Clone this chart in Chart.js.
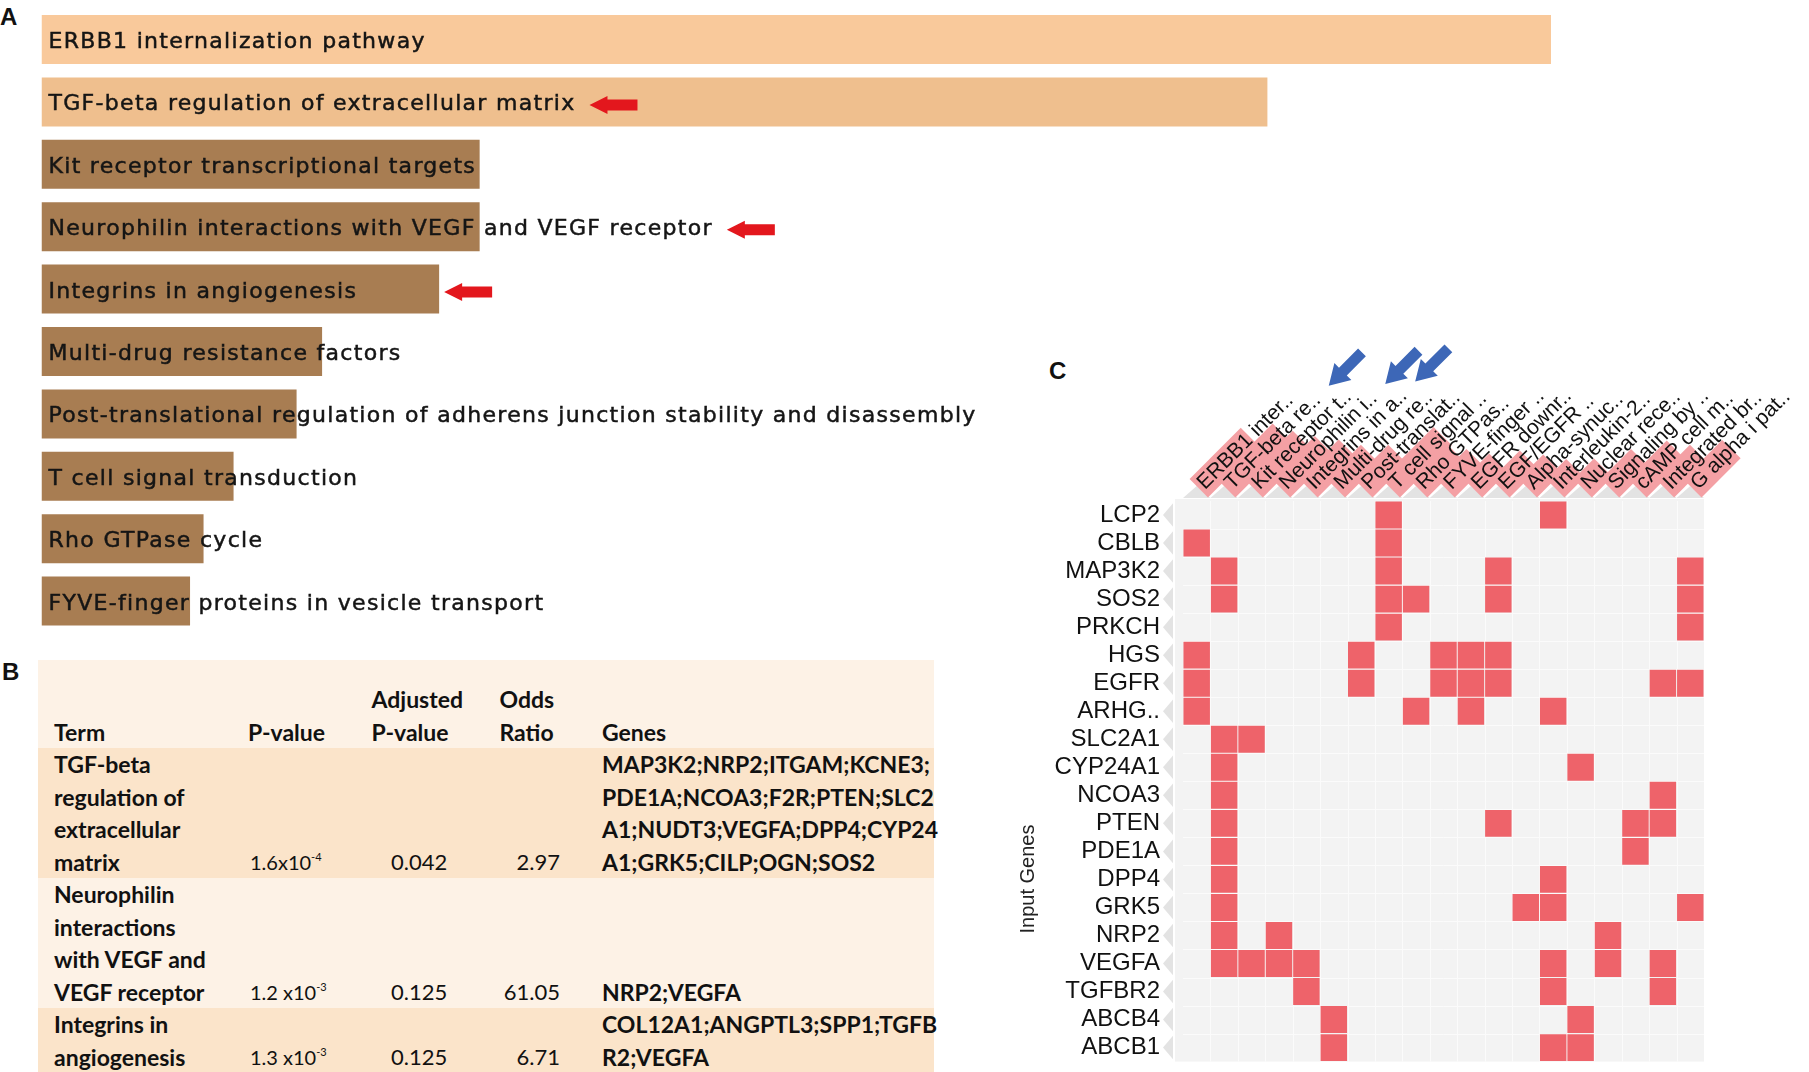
<!DOCTYPE html>
<html lang="en">
<head>
<meta charset="UTF-8">
<title>Enrichment figure</title>
<script src="https://cdn.jsdelivr.net/npm/chart.js"></script>
<style>
  body { margin: 0; width: 1809px; height: 1072px; overflow: hidden; background: #fff; position: relative; }
  .panel { position: absolute; font: bold 24px "Liberation Sans", Arial, sans-serif; line-height: 24px; color: #111; }
  #barsA { position: absolute; left: 0; top: 0; }
  #heatC { position: absolute; left: 1000px; top: 280px; }
  #tableB { position: absolute; left: 38px; top: 660px; width: 896px; border-collapse: collapse; table-layout: fixed;
            font: bold 23px Lato, sans-serif; color: #111; }
  #tableB td { padding: 0; vertical-align: bottom; line-height: 32.5px; white-space: pre-line; }
  #tableB td.num { font-weight: normal; font-size: 22px; }
  #tableB td.pv { font-size: 20px; }
  #tableB sup { font-size: 11px; vertical-align: 9px; line-height: 0; }
</style>
</head>
<body>
<div class="panel" style="left:0; top:5px;">A</div>
<div class="panel" style="left:2px; top:660px;">B</div>
<div class="panel" style="left:1049px; top:359px;">C</div>

<canvas id="barsA" width="1560" height="640"></canvas>
<table id="tableB"></table>
<canvas id="heatC" width="809" height="819"></canvas>

<script>
// ---- panel A: enriched terms ----
const terms = [
  'ERBB1 internalization pathway',
  'TGF-beta regulation of extracellular matrix',
  'Kit receptor transcriptional targets',
  'Neurophilin interactions with VEGF and VEGF receptor',
  'Integrins in angiogenesis',
  'Multi-drug resistance factors',
  'Post-translational regulation of adherens junction stability and disassembly',
  'T cell signal transduction',
  'Rho GTPase cycle',
  'FYVE-finger proteins in vesicle transport'
];
const scores = [100.6, 81.7, 29.2, 29.2, 26.5, 18.7, 17.0, 12.8, 10.8, 9.9];
const barColors = ['#f9c99b', '#efbf8e', '#a87d52', '#a87d52', '#a87d52', '#a87d52', '#a87d52', '#a87d52', '#a87d52', '#a87d52'];
const flagged = [false, true, false, true, true, false, false, false, false, false];

// ---- panel B: table ----
const tableHead = ['Term', 'P-value', 'Adjusted\nP-value', 'Odds\nRatio', 'Genes'];
const tableTerms = ['TGF-beta\nregulation of\nextracellular\nmatrix', 'Neurophilin\ninteractions\nwith VEGF and\nVEGF receptor', 'Integrins in\nangiogenesis'];
const pBase = ['1.6x10', '1.2 x10', '1.3 x10'];
const pExp = ['-4', '-3', '-3'];
const adjP = ['0.042', '0.125', '0.125'];
const oddsRatio = ['2.97', '61.05', '6.71'];
const geneLines = [
  ['MAP3K2;NRP2;ITGAM;KCNE3;', 'PDE1A;NCOA3;F2R;PTEN;SLC2', 'A1;NUDT3;VEGFA;DPP4;CYP24', 'A1;GRK5;CILP;OGN;SOS2'],
  ['NRP2;VEGFA'],
  ['COL12A1;ANGPTL3;SPP1;TGFB', 'R2;VEGFA']
];

// ---- panel C: gene / term matrix ----
const colTerms = ['ERBB1 inter..', 'TGF-beta re..', 'Kit receptor t..', 'Neurophilin i..', 'Integrins in a..',
  'Multi-drug re..', 'Post-translat..', 'T cell signal ..', 'Rho GTPas..', 'FYVE-finger ..', 'EGFR downr..',
  'EGF/EGFR ..', 'Alpha-synuc..', 'Interleukin-2..', 'Nuclear rece..', 'Signaling by ..', 'cAMP cell m..',
  'Integrated br..', 'G alpha i pat..'];
const colScore = [0.55, 0.6, 0.5, 0.45, 0.4, 0.35, 0.35, 0.55, 0.4, 0.3, 0.25, 0.3, 0.25, 0.2, 0.2, 0.3, 0.4, 0.35, 0.4];
const genes = ['LCP2', 'CBLB', 'MAP3K2', 'SOS2', 'PRKCH', 'HGS', 'EGFR', 'ARHG..', 'SLC2A1', 'CYP24A1',
  'NCOA3', 'PTEN', 'PDE1A', 'DPP4', 'GRK5', 'NRP2', 'VEGFA', 'TGFBR2', 'ABCB4', 'ABCB1'];
const memberCols = [
  [7, 13], [0, 7], [1, 7, 11, 18], [1, 7, 8, 11, 18], [7, 18], [0, 6, 9, 10, 11], [0, 6, 9, 10, 11, 17, 18],
  [0, 8, 10, 13], [1, 2], [1, 14], [1, 17], [1, 11, 16, 17], [1, 16], [1, 13], [1, 12, 13, 18], [1, 3, 15],
  [1, 2, 3, 4, 13, 15, 17], [4, 13, 17], [5, 14], [5, 13, 14]
];
const arrowCols = [1, 3, 4];
const colFont = '21px "Liberation Sans"';

function leftArrow(ctx, tip, cy, len, headLen, headHalf, shaftHalf) {
  ctx.beginPath();
  ctx.moveTo(tip, cy);
  ctx.lineTo(tip + headLen, cy - headHalf);
  ctx.lineTo(tip + headLen, cy - shaftHalf);
  ctx.lineTo(tip + len, cy - shaftHalf);
  ctx.lineTo(tip + len, cy + shaftHalf);
  ctx.lineTo(tip + headLen, cy + shaftHalf);
  ctx.lineTo(tip + headLen, cy + headHalf);
  ctx.closePath();
  ctx.fill();
}

const barText = {
  id: 'barText',
  afterDatasetsDraw(chart) {
    const ctx = chart.ctx;
    const meta = chart.getDatasetMeta(0);
    ctx.save();
    ctx.font = '22px "DejaVu Sans"';
    ctx.letterSpacing = '1.3px';
    ctx.textBaseline = 'alphabetic';
    ctx.lineWidth = 0.5;
    meta.data.forEach((bar, i) => {
      const tx = bar.base + 7;
      ctx.fillStyle = '#151515';
      ctx.strokeStyle = '#151515';
      ctx.fillText(terms[i], tx, bar.y + 8.5);
      ctx.strokeText(terms[i], tx, bar.y + 8.5);
      if (flagged[i]) {
        const textEnd = tx + ctx.measureText(terms[i]).width;
        const tip = (bar.x > textEnd && bar.x - textEnd < 200) ? bar.x + 5 : textEnd + 14;
        ctx.fillStyle = '#e3171d';
        leftArrow(ctx, tip, bar.y + 3, 48, 18, 9, 5.5);
      }
    });
    ctx.restore();
  }
};

new Chart(document.getElementById('barsA'), {
  type: 'bar',
  data: {
    labels: terms,
    datasets: [{ data: scores, backgroundColor: barColors, borderWidth: 0, barPercentage: 0.785, categoryPercentage: 1 }]
  },
  options: {
    indexAxis: 'y',
    responsive: false,
    animation: false,
    layout: { padding: { left: 41.5, right: 9, top: 8.3, bottom: 7.7 } },
    scales: {
      x: { display: false, min: 0, max: Math.max(...scores) },
      y: { display: false }
    },
    plugins: { legend: { display: false }, tooltip: { enabled: false } }
  },
  plugins: [barText]
});

// table
const tbl = document.getElementById('tableB');
const colWidths = [210, 123.5, 128, 102.5, 332];
const cg = document.createElement('colgroup');
colWidths.forEach(w => { const c = document.createElement('col'); c.style.width = w + 'px'; cg.appendChild(c); });
tbl.appendChild(cg);
function addRow(cells, bg, height) {
  const tr = document.createElement('tr');
  tr.style.background = bg;
  tr.style.height = height + 'px';
  cells.forEach(c => {
    const td = document.createElement('td');
    if (c.cls) td.className = c.cls;
    td.style.paddingLeft = (c.pl || 0) + 'px';
    if (c.pr) { td.style.paddingRight = c.pr + 'px'; td.style.textAlign = 'right'; }
    td.innerHTML = c.html;
    tr.appendChild(td);
  });
  tbl.appendChild(tr);
}
addRow(tableHead.map((h, i) => ({ html: h, pl: [16, 0, 0, 0, 0][i] })), '#fdf2e6', 88);
const rowBg = ['#fbe4ca', '#fdf2e6', '#fbe4ca'];
const rowH = [130, 130, 64];
tableTerms.forEach((t, r) => {
  addRow([
    { html: t, pl: 16 },
    { html: pBase[r] + '<sup>' + pExp[r] + '</sup>', cls: 'num pv', pl: 2 },
    { html: adjP[r], cls: 'num', pl: 19.5 },
    { html: oddsRatio[r], cls: 'num', pr: 42 },
    { html: geneLines[r].join('\n'), pl: 0 }
  ], rowBg[r], rowH[r]);
});

// matrix
const cells = [];
genes.forEach((g, r) => memberCols[r].forEach(c => cells.push({ x: colTerms[c], y: [r + 0.02, r + 0.98] })));

const heatDecor = {
  id: 'heatDecor',
  beforeDraw(chart) {
    const { ctx, chartArea: a } = chart;
    const x = chart.scales.x, y = chart.scales.y;
    const cw = x.getPixelForValue(1) - x.getPixelForValue(0);
    const rh = y.getPixelForValue(1) - y.getPixelForValue(0);
    ctx.save();
    ctx.fillStyle = '#f3f3f3';
    ctx.fillRect(a.left - 8, a.top - 2, a.right - a.left + 8, a.bottom - a.top + 2);
    ctx.strokeStyle = '#fbfbfb';
    ctx.lineWidth = 1;
    ctx.beginPath();
    for (let i = 1; i < colTerms.length; i++) {
      const px = Math.round(x.getPixelForValue(i) - cw / 2) + 0.5;
      ctx.moveTo(px, a.top); ctx.lineTo(px, a.bottom);
    }
    for (let r = 1; r < genes.length; r++) {
      const py = Math.round(y.getPixelForValue(r)) + 0.5;
      ctx.moveTo(a.left, py); ctx.lineTo(a.right, py);
    }
    ctx.stroke();
    ctx.fillStyle = '#e3e3e3';
    genes.forEach((g, r) => {
      const py = y.getPixelForValue(r + 0.5);
      ctx.beginPath();
      ctx.moveTo(a.left - 20, py);
      ctx.lineTo(a.left - 10, py - rh * 0.42);
      ctx.lineTo(a.left - 10, py + rh * 0.42);
      ctx.closePath();
      ctx.fill();
    });
    colTerms.forEach((t, i) => {
      const px = x.getPixelForValue(i);
      ctx.beginPath();
      ctx.moveTo(px - cw / 2, a.top - 3);
      ctx.lineTo(px + cw / 2, a.top - 3);
      ctx.lineTo(px, a.top - 15);
      ctx.closePath();
      ctx.fill();
    });
    ctx.font = colFont;
    ctx.fillStyle = '#f4a0a4';
    x.getLabelItems().forEach((it, i) => {
      const [tx, ty] = it.options.translation;
      const w = ctx.measureText(it.label).width;
      ctx.save();
      ctx.translate(tx, ty);
      ctx.rotate(it.options.rotation);
      ctx.fillRect(-3, it.textOffset - 13, w * colScore[i] + 3, 26);
      ctx.restore();
    });
    ctx.restore();
  },
  afterDraw(chart) {
    const ctx = chart.ctx;
    const x = chart.scales.x;
    const items = x.getLabelItems();
    ctx.save();
    ctx.font = colFont;
    ctx.fillStyle = '#3d67b7';
    arrowCols.forEach(i => {
      const it = items[i];
      const [tx, ty] = it.options.translation;
      const w = ctx.measureText(it.label).width;
      ctx.save();
      ctx.translate(tx, ty);
      ctx.rotate(it.options.rotation);
      leftArrow(ctx, w + 16, it.textOffset, 47, 20, 12, 5.5);
      ctx.restore();
    });
    ctx.translate(28, 599);
    ctx.rotate(-Math.PI / 2);
    ctx.font = '20px "Liberation Sans"';
    ctx.fillStyle = '#222';
    ctx.textAlign = 'center';
    ctx.textBaseline = 'middle';
    ctx.fillText('Input Genes', 0, 0);
    ctx.restore();
  }
};

new Chart(document.getElementById('heatC'), {
  type: 'bar',
  data: {
    datasets: [{ data: cells, backgroundColor: '#ee636a', borderWidth: 0, barPercentage: 1, categoryPercentage: 0.965 }]
  },
  options: {
    responsive: false,
    animation: false,
    layout: { padding: { left: 0, top: 0, right: 105, bottom: 0 } },
    plugins: { legend: { display: false }, tooltip: { enabled: false } },
    scales: {
      x: {
        type: 'category', labels: colTerms, position: 'top', offset: true,
        grid: { display: false, drawTicks: false }, border: { display: false },
        ticks: { autoSkip: false, minRotation: 45, maxRotation: 45, padding: 6, labelOffset: 22, color: '#111',
                 font: { family: 'Liberation Sans', size: 21 } },
        afterFit: s => { s.height = 221; }
      },
      y: {
        type: 'linear', min: 0, max: genes.length, reverse: true,
        afterBuildTicks: s => { s.ticks = genes.map((g, i) => ({ value: i + 0.5 })); },
        grid: { display: false, drawTicks: false }, border: { display: false },
        ticks: { autoSkip: false, padding: 23, color: '#111', font: { family: 'Liberation Sans', size: 24 },
                 callback: (v, i) => genes[i] },
        afterFit: s => { s.width = 183; }
      }
    }
  },
  plugins: [heatDecor]
});
</script>
</body>
</html>
